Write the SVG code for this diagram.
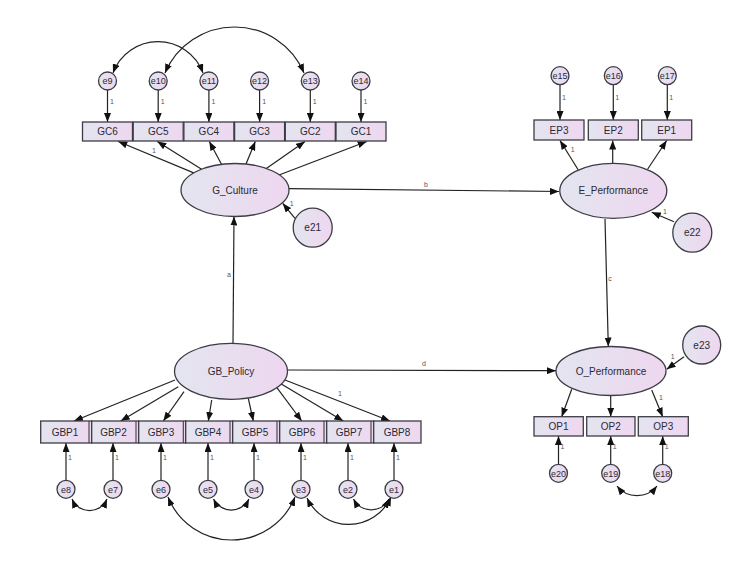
<svg xmlns="http://www.w3.org/2000/svg" width="743" height="561" viewBox="0 0 743 561">
<defs>
<linearGradient id="g" x1="0" y1="0" x2="1" y2="0">
<stop offset="0" stop-color="#e3e5ef"/>
<stop offset="1" stop-color="#eed7f0"/>
</linearGradient>
<marker id="ah" markerUnits="userSpaceOnUse" markerWidth="9" markerHeight="7" refX="9" refY="3.5" orient="auto-start-reverse">
<path d="M0,0 L9,3.5 L0,7 z" fill="#111"/>
</marker>
</defs>
<style>
.n{fill:url(#g);stroke:#3c3c44;stroke-width:1.3}
.t{font-family:"Liberation Sans",Arial,sans-serif;font-size:10px;fill:#2a2a36;text-anchor:middle}
.ts{font-family:"Liberation Sans",Arial,sans-serif;font-size:9px;fill:#2a2a36;text-anchor:middle}
.l{font-family:"Liberation Sans",Arial,sans-serif;font-size:7px;fill:#556;text-anchor:middle}
.c{fill:none;stroke:#222;stroke-width:1.2;marker-end:url(#ah)}
.cc{fill:none;stroke:#222;stroke-width:1.2;marker-start:url(#ah);marker-end:url(#ah)}
.sep{stroke:#3c3c44;stroke-width:1.1}
</style>
<rect width="743" height="561" fill="#fff"/>

<g id="connectors">
<path class="c" d="M107.5,90 V122"/>
<path class="c" d="M158.2,90 V122"/>
<path class="c" d="M208.9,90 V122"/>
<path class="c" d="M259.6,90 V122"/>
<path class="c" d="M310.3,90 V122"/>
<path class="c" d="M361,90 V122"/>
<path class="c" d="M193.7,172.9 L118.3,141.5"/>
<path class="c" d="M201.6,169.2 L157.3,141.5"/>
<path class="c" d="M221.5,164.3 L209.3,141.5"/>
<path class="c" d="M246,164.1 L255.3,141.5"/>
<path class="c" d="M266.3,168.4 L305,141.5"/>
<path class="c" d="M279,175 L366.7,141.5"/>
<path class="cc" d="M113,73 A48,48 0 0 1 203,73"/>
<path class="cc" d="M165,73 A75.5,75.5 0 0 1 304,73"/>
<path class="c" d="M295,218.3 L282.7,203.3"/>
<path class="c" d="M233,343 L234,216.5"/>
<path class="c" d="M289,188.7 L559,191.5"/>
<path class="c" d="M605,219 L608.3,346.5"/>
<path class="c" d="M287,370 L556,370.7"/>
<path class="c" d="M560,84.7 V120"/>
<path class="c" d="M613.3,84.7 V120"/>
<path class="c" d="M667.3,84.7 V120"/>
<path class="c" d="M578.3,170 L560,140.5"/>
<path class="c" d="M612.7,163.5 V140.5"/>
<path class="c" d="M647.7,169 L666.7,140.5"/>
<path class="c" d="M674,221.7 L651.7,212.3"/>
<path class="c" d="M571.7,389.3 L561.7,416.7"/>
<path class="c" d="M610.7,395.5 V416.7"/>
<path class="c" d="M651.7,390 L662.7,416.7"/>
<path class="c" d="M684,356.7 L666.7,369.3"/>
<path class="c" d="M558.5,464.3 V436"/>
<path class="c" d="M610.7,464.3 V436"/>
<path class="c" d="M662.7,464.3 V436"/>
<path class="cc" d="M617,486 A25.5,25.5 0 0 0 657,486"/>
<path class="c" d="M175,380 L74,421"/>
<path class="c" d="M178.3,386.7 L120.7,421"/>
<path class="c" d="M184,391.7 L163.3,421"/>
<path class="c" d="M211.7,400 L208.3,421"/>
<path class="c" d="M248.3,398.3 L253.3,421"/>
<path class="c" d="M276.7,387.3 L301.7,421"/>
<path class="c" d="M280,383.3 L343.3,421"/>
<path class="c" d="M285,380 L390,421"/>
<path class="c" d="M66,480.3 V443"/>
<path class="c" d="M113,480.3 V443"/>
<path class="c" d="M161,480.3 V443"/>
<path class="c" d="M208,480.3 V443"/>
<path class="c" d="M254,480.3 V443"/>
<path class="c" d="M301,480.3 V443"/>
<path class="c" d="M348,480.3 V443"/>
<path class="c" d="M394,480.3 V443"/>
<path class="cc" d="M72,499 A19,19 0 0 0 107,499"/>
<path class="cc" d="M213.5,499 A19.8,19.8 0 0 0 249,499"/>
<path class="cc" d="M353.5,499 A20,20 0 0 0 389,499"/>
<path class="cc" d="M168,497 A68.4,68.4 0 0 0 295,497"/>
<path class="cc" d="M307,498 A46.2,46.2 0 0 0 391,497"/>
</g>

<g id="labels">
<text class="l" x="112" y="103.5">1</text>
<text class="l" x="162.7" y="103.5">1</text>
<text class="l" x="213.4" y="103.5">1</text>
<text class="l" x="264.1" y="103.5">1</text>
<text class="l" x="314.8" y="103.5">1</text>
<text class="l" x="365.5" y="103.5">1</text>
<text class="l" x="154" y="153">1</text>
<text class="l" x="291.7" y="206">1</text>
<text class="l" x="229" y="276.5">a</text>
<text class="l" x="426" y="186.5">b</text>
<text class="l" x="610" y="280.5">c</text>
<text class="l" x="424" y="366">d</text>
<text class="l" x="564" y="100.3">1</text>
<text class="l" x="617.3" y="100.3">1</text>
<text class="l" x="671.3" y="100.3">1</text>
<text class="l" x="572.7" y="152">1</text>
<text class="l" x="665" y="213.5">1</text>
<text class="l" x="661" y="400">1</text>
<text class="l" x="672.7" y="358.5">1</text>
<text class="l" x="562.5" y="448.5">1</text>
<text class="l" x="614.7" y="448.5">1</text>
<text class="l" x="666.7" y="448.5">1</text>
<text class="l" x="340" y="396">1</text>
<text class="l" x="70" y="459.5">1</text>
<text class="l" x="117" y="459.5">1</text>
<text class="l" x="165" y="459.5">1</text>
<text class="l" x="212" y="459.5">1</text>
<text class="l" x="258" y="459.5">1</text>
<text class="l" x="305" y="459.5">1</text>
<text class="l" x="352" y="459.5">1</text>
<text class="l" x="398" y="459.5">1</text>
</g>

<g id="e9"><circle class="n" cx="107.5" cy="81" r="9"/><text class="ts" x="107.5" y="84.2">e9</text></g>
<g id="e10"><circle class="n" cx="158.2" cy="81" r="9"/><text class="ts" x="158.2" y="84.2">e10</text></g>
<g id="e11"><circle class="n" cx="208.9" cy="81" r="9"/><text class="ts" x="208.9" y="84.2">e11</text></g>
<g id="e12"><circle class="n" cx="259.6" cy="81" r="9"/><text class="ts" x="259.6" y="84.2">e12</text></g>
<g id="e13"><circle class="n" cx="310.3" cy="81" r="9"/><text class="ts" x="310.3" y="84.2">e13</text></g>
<g id="e14"><circle class="n" cx="361" cy="81" r="9"/><text class="ts" x="361" y="84.2">e14</text></g>

<g id="GC6"><rect class="n" x="82.5" y="122" width="50" height="19"/><text class="t" x="107.5" y="135">GC6</text></g>
<g id="GC5"><rect class="n" x="133.2" y="122" width="50" height="19"/><text class="t" x="158.2" y="135">GC5</text></g>
<g id="GC4"><rect class="n" x="183.9" y="122" width="50" height="19"/><text class="t" x="208.9" y="135">GC4</text></g>
<g id="GC3"><rect class="n" x="234.6" y="122" width="50" height="19"/><text class="t" x="259.6" y="135">GC3</text></g>
<g id="GC2"><rect class="n" x="285.3" y="122" width="50" height="19"/><text class="t" x="310.3" y="135">GC2</text></g>
<g id="GC1"><rect class="n" x="336" y="122" width="50" height="19"/><text class="t" x="361" y="135">GC1</text></g>

<g id="G_Culture"><ellipse class="n" cx="235" cy="190" rx="54" ry="26.5"/><text class="t" x="235" y="193.5">G_Culture</text></g>
<g id="e21"><circle class="n" cx="312.7" cy="227.7" r="19.5"/><text class="t" x="312.7" y="231.2">e21</text></g>

<g id="e15"><circle class="n" cx="560" cy="75.7" r="9"/><text class="ts" x="560" y="78.9">e15</text></g>
<g id="e16"><circle class="n" cx="613.3" cy="75.7" r="9"/><text class="ts" x="613.3" y="78.9">e16</text></g>
<g id="e17"><circle class="n" cx="667.3" cy="75.7" r="9"/><text class="ts" x="667.3" y="78.9">e17</text></g>
<g id="EP3"><rect class="n" x="534" y="120" width="50" height="20"/><text class="t" x="559" y="133.5">EP3</text></g>
<g id="EP2"><rect class="n" x="588.3" y="120" width="50" height="20"/><text class="t" x="613.3" y="133.5">EP2</text></g>
<g id="EP1"><rect class="n" x="641.7" y="120" width="50" height="20"/><text class="t" x="666.7" y="133.5">EP1</text></g>
<g id="E_Performance"><ellipse class="n" cx="613.3" cy="190.8" rx="53.5" ry="27.5"/><text class="t" x="613.3" y="194.3">E_Performance</text></g>
<g id="e22"><circle class="n" cx="692.3" cy="232.7" r="19.5"/><text class="t" x="692.3" y="236.2">e22</text></g>

<g id="O_Performance"><ellipse class="n" cx="611" cy="371" rx="55" ry="24.5"/><text class="t" x="611" y="374.5">O_Performance</text></g>
<g id="e23"><circle class="n" cx="701.7" cy="345" r="19"/><text class="t" x="701.7" y="348.5">e23</text></g>
<g id="OP1"><rect class="n" x="534" y="416.7" width="49.3" height="19.3"/><text class="t" x="558.6" y="429.8">OP1</text></g>
<g id="OP2"><rect class="n" x="586.7" y="416.7" width="48.3" height="19.3"/><text class="t" x="610.8" y="429.8">OP2</text></g>
<g id="OP3"><rect class="n" x="638.3" y="416.7" width="50" height="19.3"/><text class="t" x="663.3" y="429.8">OP3</text></g>
<g id="e20"><circle class="n" cx="558.5" cy="473.3" r="9"/><text class="ts" x="558.5" y="476.5">e20</text></g>
<g id="e19"><circle class="n" cx="610.7" cy="473.3" r="9"/><text class="ts" x="610.7" y="476.5">e19</text></g>
<g id="e18"><circle class="n" cx="662.7" cy="473.3" r="9"/><text class="ts" x="662.7" y="476.5">e18</text></g>

<g id="GB_Policy"><ellipse class="n" cx="231" cy="371.3" rx="56.5" ry="28"/><text class="t" x="231" y="374.8">GB_Policy</text></g>

<g id="GBP1"><rect class="n" x="40.7" y="421" width="51" height="22"/><line class="sep" x1="89" y1="421" x2="89" y2="443"/><text class="t" x="65" y="435.5">GBP1</text></g>
<g id="GBP2"><rect class="n" x="91.7" y="421" width="47" height="22"/><line class="sep" x1="136" y1="421" x2="136" y2="443"/><text class="t" x="113.5" y="435.5">GBP2</text></g>
<g id="GBP3"><rect class="n" x="138.7" y="421" width="47" height="22"/><line class="sep" x1="183.3" y1="421" x2="183.3" y2="443"/><text class="t" x="161" y="435.5">GBP3</text></g>
<g id="GBP4"><rect class="n" x="185.7" y="421" width="47" height="22"/><line class="sep" x1="230" y1="421" x2="230" y2="443"/><text class="t" x="208" y="435.5">GBP4</text></g>
<g id="GBP5"><rect class="n" x="232.7" y="421" width="47" height="22"/><line class="sep" x1="277" y1="421" x2="277" y2="443"/><text class="t" x="255" y="435.5">GBP5</text></g>
<g id="GBP6"><rect class="n" x="279.7" y="421" width="47" height="22"/><line class="sep" x1="324" y1="421" x2="324" y2="443"/><text class="t" x="302" y="435.5">GBP6</text></g>
<g id="GBP7"><rect class="n" x="326.7" y="421" width="47" height="22"/><line class="sep" x1="371" y1="421" x2="371" y2="443"/><text class="t" x="349" y="435.5">GBP7</text></g>
<g id="GBP8"><rect class="n" x="373.7" y="421" width="47.3" height="22"/><text class="t" x="397" y="435.5">GBP8</text></g>

<g id="e8"><circle class="n" cx="66" cy="489.3" r="9"/><text class="ts" x="66" y="492.5">e8</text></g>
<g id="e7"><circle class="n" cx="113" cy="489.3" r="9"/><text class="ts" x="113" y="492.5">e7</text></g>
<g id="e6"><circle class="n" cx="161" cy="489.3" r="9"/><text class="ts" x="161" y="492.5">e6</text></g>
<g id="e5"><circle class="n" cx="208" cy="489.3" r="9"/><text class="ts" x="208" y="492.5">e5</text></g>
<g id="e4"><circle class="n" cx="254" cy="489.3" r="9"/><text class="ts" x="254" y="492.5">e4</text></g>
<g id="e3"><circle class="n" cx="301" cy="489.3" r="9"/><text class="ts" x="301" y="492.5">e3</text></g>
<g id="e2"><circle class="n" cx="348" cy="489.3" r="9"/><text class="ts" x="348" y="492.5">e2</text></g>
<g id="e1"><circle class="n" cx="394" cy="489.3" r="9"/><text class="ts" x="394" y="492.5">e1</text></g>
</svg>
